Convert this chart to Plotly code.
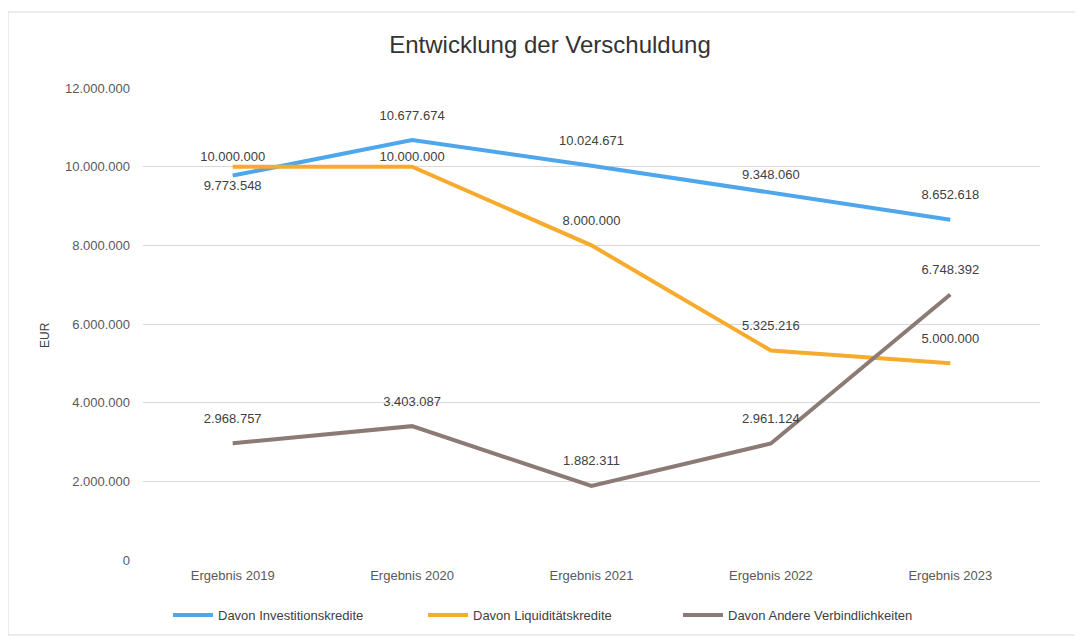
import plotly.graph_objects as go

categories = ["Ergebnis 2019", "Ergebnis 2020", "Ergebnis 2021", "Ergebnis 2022", "Ergebnis 2023"]
investitionskredite = [9773548, 10677674, 10024671, 9348060, 8652618]
liquiditaetskredite = [10000000, 10000000, 8000000, 5325216, 5000000]
andere = [2968757, 3403087, 1882311, 2961124, 6748392]
series_names = ["Davon Investitionskredite", "Davon Liquiditätskredite", "Davon Andere Verbindlichkeiten"]
y_ticks = [0, 2000000, 4000000, 6000000, 8000000, 10000000, 12000000]

colors = ["#4ea6ec", "#f6ab2c", "#8c7a76"]
font_family = "Liberation Sans, Arial, sans-serif"

positions = [
    ["bottom center", "top center", "top center", "top center", "top center"],
    ["top center", "top center", "top center", "top center", "top center"],
    ["top center", "top center", "top center", "top center", "top center"],
]
msizes = [
    [6, 26, 26, 14, 26],
    [3, 3, 26, 26, 26],
    [26, 26, 26, 26, 26],
]

# page body has an 8px margin; shrink figure so it fits the 1083x638 window
W, H = 1075, 630
L, T, R, B = 135, 80, 43, 78
PW, PH = W - L - R, H - T - B

fig = go.Figure()
for name, vals, col in zip(series_names, [investitionskredite, liquiditaetskredite, andere], colors):
    fig.add_trace(go.Scatter(
        x=categories, y=vals, name=name, mode="lines",
        line=dict(color=col, width=4), cliponaxis=False,
    ))
for name, vals, col, pos, ms in zip(series_names, [investitionskredite, liquiditaetskredite, andere], colors, positions, msizes):
    fig.add_trace(go.Scatter(
        x=categories, y=vals, name=name, showlegend=False,
        mode="markers+text",
        marker=dict(size=ms, opacity=0, color=col),
        texttemplate="%{y:,}",
        textposition=pos,
        textfont=dict(size=13, color="#404040", family=font_family),
        cliponaxis=False, hoverinfo="skip",
    ))

fig.update_layout(
    width=W, height=H,
    separators=",.",
    paper_bgcolor="white", plot_bgcolor="white",
    margin=dict(l=L, r=R, t=T, b=B, autoexpand=False),
    font=dict(family=font_family, color="#595959", size=13),
    title=dict(text="Entwicklung der Verschuldung", x=(550 - 143) / PW, xanchor="center", xref="paper",
               y=1 - 37 / H, yanchor="middle",
               font=dict(size=24, color="#333333", family=font_family)),
    showlegend=True,
    legend=dict(orientation="h", x=(168 - 143) / PW, xanchor="left", y=(560 - 615) / PH, yanchor="middle",
                font=dict(size=13, color="#404040", family=font_family),
                entrywidth=200, entrywidthmode="pixels",
                itemwidth=40, bgcolor="rgba(0,0,0,0)"),
    xaxis=dict(range=[-0.5, 4.5], showgrid=False, showline=False, zeroline=False, ticks="",
               tickfont=dict(size=13, color="#595959"), ticklabelstandoff=6),
    yaxis=dict(range=[0, 12000000], tickvals=y_ticks, tickformat=",d",
               showgrid=True, gridcolor="#d9d9d9", gridwidth=1, zeroline=False,
               showline=False, ticks="", ticklabelstandoff=12,
               tickfont=dict(size=13, color="#595959")),
    annotations=[dict(text="EUR", textangle=-90, xref="paper", yref="paper",
                      x=(45 - 143) / PW, y=(560 - 335) / PH, showarrow=False,
                      xanchor="center", yanchor="middle",
                      font=dict(size=12, color="#404040", family=font_family))],
    shapes=[dict(type="rect", xref="paper", yref="paper",
                 x0=(8 - 143) / PW, x1=(1095 - 143) / PW,
                 y0=(560 - 635) / PH, y1=(560 - 12) / PH,
                 line=dict(color="#d9d9d9", width=1), fillcolor="rgba(0,0,0,0)", layer="below")],
)

fig.write_html("out.html")
